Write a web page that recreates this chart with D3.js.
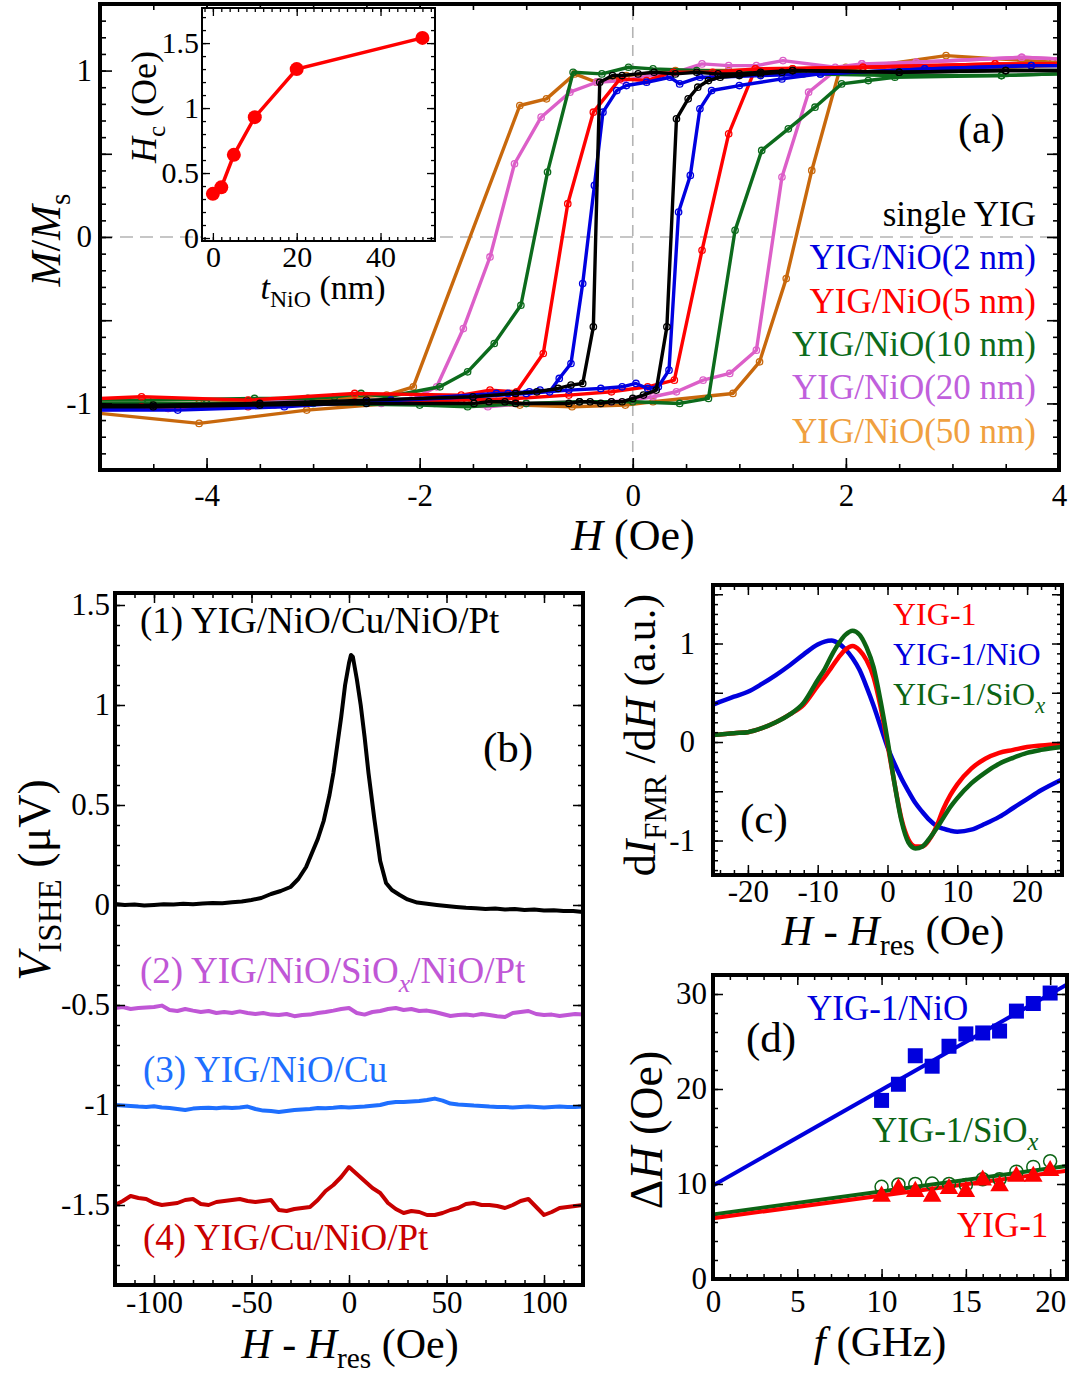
<!DOCTYPE html>
<html><head><meta charset="utf-8">
<script src="https://cdn.jsdelivr.net/npm/d3@7"></script>
<style>body{margin:0;background:#fff} svg{display:block} text{white-space:pre}</style>
</head><body>
<script>
// ================= DATA =================
// ---- Panel (a): M/Ms vs H (Oe); descending (from +H) and ascending (from -H) branches ----
const yigDesc  = [[4,1.0],[3.5,1.0],[2.5,0.99],[1.5,1.0],[1.2,0.99],[1.0,0.98],[0.8,0.98],[0.6,0.99],[0.4,0.98],[0.2,0.99],[0.05,0.98],[-0.1,0.97],[-0.19,0.97],[-0.31,0.93],[-0.37,-0.54],[-0.47,-0.88],[-0.58,-0.89],[-0.7,-0.91],[-0.9,-0.93],[-1.1,-0.94],[-1.5,-0.96],[-2.5,-0.98],[-3.5,-1.0],[-4.5,-1.01],[-5,-1.01]];
const yigAsc   = [[-5,-1.02],[-4.5,-1.02],[-3.5,-1.01],[-2.5,-1.0],[-1.49,-1.0],[-1.35,-0.99],[-1.2,-0.99],[-1.1,-1.0],[-0.6,-1.0],[-0.5,-0.99],[-0.4,-0.99],[-0.3,-1.0],[-0.2,-0.99],[-0.1,-0.99],[0.0,-0.97],[0.1,-0.95],[0.22,-0.92],[0.32,-0.54],[0.41,0.71],[0.52,0.83],[0.61,0.90],[0.71,0.94],[0.82,0.96],[1.0,0.97],[1.2,0.98],[1.4,0.99],[1.5,1.0],[2.5,0.99],[3.5,1.0],[4,1.0]];
const nio2Desc = [[4,1.03],[3.74,1.03],[2.74,1.01],[1.76,0.98],[1.2,0.97],[0.75,0.96],[0.63,0.96],[0.44,0.92],[0.35,0.96],[0.13,0.93],[-0.06,0.91],[-0.15,0.88],[-0.28,0.75],[-0.36,0.31],[-0.47,-0.28],[-0.58,-0.76],[-0.69,-0.85],[-0.78,-0.93],[-0.87,-0.92],[-0.97,-0.93],[-1.17,-0.94],[-1.28,-0.94],[-2.27,-0.98],[-3.27,-1.02],[-4.27,-1.04],[-5,-1.04]];
const nio2Asc  = [[-5,-1.03],[-4.5,-1.02],[-3.5,-1.01],[-2.5,-0.99],[-1.5,-0.96],[-1.0,-0.94],[-0.6,-0.92],[-0.3,-0.91],[-0.1,-0.9],[0.03,-0.88],[0.14,-0.91],[0.24,-0.90],[0.34,-0.80],[0.43,0.15],[0.54,0.37],[0.63,0.77],[0.74,0.88],[1.0,0.91],[1.4,0.95],[1.76,0.98],[2.74,1.01],[3.74,1.03],[4,1.03]];
const nio5Desc = [[4,1.04],[3.4,1.04],[2.16,1.02],[1.5,1.01],[1.15,1.01],[0.75,0.99],[0.38,0.99],[0.13,0.94],[-0.12,0.95],[-0.37,0.75],[-0.61,0.2],[-0.84,-0.70],[-1.09,-0.93],[-1.34,-0.92],[-1.61,-0.95],[-2.61,-0.94],[-3.61,-0.98],[-4.61,-0.96],[-5,-0.97]];
const nio5Asc  = [[-5,-1.01],[-4.61,-1.02],[-3.61,-1.02],[-2.61,-0.99],[-1.61,-0.98],[-1.1,-0.97],[-0.6,-0.95],[-0.2,-0.93],[0.14,-0.90],[0.39,-0.86],[0.65,-0.08],[0.9,0.62],[1.15,1.01],[2.16,1.02],[3.4,1.04],[4,1.04]];
const nio10Desc= [[4,0.98],[3.46,0.97],[2.46,0.97],[1.6,0.98],[1.2,0.99],[0.6,1.0],[0.19,1.01],[-0.04,1.02],[-0.29,0.98],[-0.56,0.99],[-0.8,0.39],[-1.05,-0.41],[-1.3,-0.64],[-1.55,-0.81],[-1.81,-0.90],[-2.3,-0.96],[-2.55,-0.94],[-2.8,-0.96],[-3.05,-0.97],[-3.55,-0.97],[-4.55,-0.98],[-5,-0.98]];
const nio10Asc = [[-5,-1.0],[-4,-1.0],[-3,-1.0],[-2,-1.01],[-1.55,-1.02],[-1.0,-1.0],[-0.5,-0.99],[0,-0.99],[0.44,-1.0],[0.71,-0.97],[0.96,0.04],[1.21,0.52],[1.46,0.65],[1.71,0.78],[1.96,0.92],[2.21,0.94],[2.46,0.96],[3.46,0.97],[4,0.98]];
const nio20Desc= [[4,1.07],[3.65,1.08],[2.66,1.05],[2.15,1.04],[1.9,1.02],[1.41,1.06],[1.16,1.03],[0.9,1.03],[0.65,1.04],[0.41,0.99],[0.16,0.97],[-0.09,0.94],[-0.34,0.93],[-0.59,0.87],[-0.86,0.72],[-1.11,0.44],[-1.34,-0.12],[-1.59,-0.55],[-1.84,-0.90],[-2.08,-0.98],[-2.36,-0.99],[-3.36,-0.99],[-4.36,-1.03],[-5,-1.03]];
const nio20Asc = [[-5,-1.04],[-4.36,-1.03],[-3.36,-1.01],[-2.36,-1.0],[-1.86,-1.0],[-1.36,-1.02],[-1.0,-1.0],[-0.5,-0.99],[-0.2,-0.99],[0.0,-0.98],[0.19,-0.96],[0.41,-0.93],[0.66,-0.86],[0.91,-0.82],[1.16,-0.68],[1.40,0.36],[1.65,0.87],[1.9,1.0],[2.15,1.04],[2.4,1.03],[2.66,1.05],[3.65,1.08],[4,1.07]];
const nio50Desc= [[4,1.03],[3.0,1.01],[2.0,1.02],[1.5,1.01],[0.9,1.0],[0.4,1.0],[-0.06,0.97],[-0.34,0.93],[-0.545,0.98],[-0.81,0.83],[-1.06,0.79],[-2.06,-0.90],[-2.31,-0.95],[-3.06,-0.98],[-4.07,-1.0],[-5,-1.0]];
const nio50Asc = [[-5,-1.06],[-4.07,-1.12],[-3.06,-1.04],[-2.07,-0.99],[-1.56,-1.0],[-1.06,-1.01],[-0.57,-1.02],[-0.07,-1.01],[0.19,-0.99],[0.94,-0.94],[1.19,-0.75],[1.44,-0.25],[1.68,0.40],[1.94,1.0],[2.94,1.09],[3.94,1.05],[4,1.05]];
const loopLabels = ["single YIG","YIG/NiO(2 nm)","YIG/NiO(5 nm)","YIG/NiO(10 nm)","YIG/NiO(20 nm)","YIG/NiO(50 nm)"];
const aXTicks = [-4,-2,0,2,4];
const aYTicks = [-1,0,1];
// ---- inset: coercivity vs NiO thickness ----
const tNiO = [0,2,5,10,20,50];
const Hc   = [0.34,0.39,0.64,0.93,1.30,1.54];
const inXTicks = [0,20,40];
const inYTicks = [0,0.5,1,1.5];

// ---- Panel (b): V_ISHE (uV) vs H-Hres (Oe) ----
const bH1 = [-120,-115,-110,-105,-100,-95,-90,-85,-80,-75,-70,-65,-60,-55,-50,-45,-40,-35,-30,-26,-22,-19,-16,-13,-10,-8,-6,-4,-2,0,1,2,4,6,8,10,13,16,19,22,26,30,35,40,45,50,55,60,65,70,75,80,85,90,95,100,105,110,115,120];
const bV1 = [0.005,0.0,0.002,-0.003,0.0,0.004,0.003,0.006,0.004,0.008,0.01,0.009,0.014,0.018,0.025,0.035,0.055,0.07,0.09,0.13,0.19,0.26,0.33,0.42,0.55,0.66,0.8,0.94,1.1,1.21,1.25,1.24,1.13,1.0,0.84,0.66,0.43,0.22,0.11,0.075,0.05,0.028,0.012,0.006,0.0,-0.005,-0.01,-0.014,-0.016,-0.02,-0.018,-0.022,-0.02,-0.025,-0.023,-0.028,-0.026,-0.03,-0.03,-0.035];
const bH = [-120,-116,-112,-108,-104,-100,-96,-92,-88,-84,-80,-76,-72,-68,-64,-60,-56,-52,-48,-44,-40,-36,-32,-28,-24,-20,-16,-12,-8,-4,0,4,8,12,16,20,24,28,32,36,40,44,48,52,56,60,64,68,72,76,80,84,88,92,96,100,104,108,112,116,120];
const bV2 = [-0.515,-0.51,-0.52,-0.515,-0.512,-0.51,-0.503,-0.525,-0.53,-0.52,-0.528,-0.535,-0.53,-0.54,-0.535,-0.54,-0.532,-0.54,-0.545,-0.54,-0.548,-0.55,-0.545,-0.556,-0.55,-0.548,-0.54,-0.535,-0.528,-0.52,-0.515,-0.54,-0.548,-0.535,-0.53,-0.52,-0.515,-0.525,-0.52,-0.53,-0.528,-0.535,-0.545,-0.555,-0.55,-0.548,-0.552,-0.545,-0.55,-0.556,-0.56,-0.54,-0.535,-0.53,-0.545,-0.55,-0.548,-0.555,-0.55,-0.545,-0.547];
const bV3 = [-1.0,-1.002,-1.005,-1.008,-1.01,-1.006,-1.012,-1.015,-1.02,-1.025,-1.018,-1.015,-1.014,-1.016,-1.013,-1.015,-1.012,-1.008,-1.02,-1.028,-1.03,-1.035,-1.03,-1.025,-1.022,-1.02,-1.015,-1.016,-1.014,-1.01,-1.012,-1.01,-1.008,-1.004,-1.0,-0.99,-0.985,-0.985,-0.982,-0.98,-0.975,-0.968,-0.978,-0.993,-0.998,-1.0,-1.003,-1.005,-1.008,-1.01,-1.01,-1.012,-1.01,-1.008,-1.01,-1.012,-1.01,-1.008,-1.01,-1.01,-1.008];
const bV4 = [-1.5,-1.48,-1.455,-1.465,-1.47,-1.49,-1.5,-1.495,-1.49,-1.475,-1.47,-1.495,-1.5,-1.485,-1.48,-1.475,-1.47,-1.48,-1.485,-1.48,-1.475,-1.525,-1.53,-1.52,-1.515,-1.51,-1.475,-1.43,-1.4,-1.36,-1.31,-1.345,-1.38,-1.415,-1.44,-1.49,-1.52,-1.54,-1.53,-1.535,-1.55,-1.55,-1.54,-1.525,-1.515,-1.495,-1.49,-1.5,-1.5,-1.505,-1.515,-1.5,-1.48,-1.47,-1.51,-1.55,-1.535,-1.515,-1.51,-1.505,-1.5];
const bXTicks = [-100,-50,0,50,100];
const bYTicks = [-1.5,-1,-0.5,0,0.5,1,1.5];

// ---- Panel (c): dI_FMR/dH (a.u.) vs H-Hres (Oe) ----
const cH    = [-25,-22,-20,-18,-16,-14,-12,-10,-9,-8,-7,-6,-5,-4,-3,-2,-1,0,1,2,3,4,5,6,7,8,9,10,12,14,16,18,20,22,25];
const cYIG  = [0.07,0.09,0.1,0.14,0.2,0.28,0.38,0.57,0.66,0.76,0.86,0.94,0.975,0.93,0.83,0.66,0.36,-0.02,-0.42,-0.78,-0.99,-1.06,-1.06,-0.99,-0.86,-0.68,-0.54,-0.43,-0.27,-0.17,-0.11,-0.08,-0.05,-0.035,-0.02];
const cNiO  = [0.38,0.46,0.51,0.59,0.68,0.78,0.89,0.99,1.02,1.03,1.0,0.94,0.85,0.73,0.56,0.37,0.16,-0.05,-0.22,-0.37,-0.5,-0.62,-0.71,-0.79,-0.85,-0.88,-0.9,-0.91,-0.89,-0.83,-0.76,-0.67,-0.58,-0.49,-0.38];
const cSiO  = [0.07,0.09,0.1,0.14,0.2,0.28,0.4,0.63,0.74,0.88,1.0,1.09,1.13,1.09,0.96,0.76,0.42,0.02,-0.42,-0.8,-1.02,-1.08,-1.06,-0.98,-0.88,-0.77,-0.66,-0.57,-0.42,-0.31,-0.22,-0.16,-0.11,-0.08,-0.05];
const cXTicks = [-20,-10,0,10,20];
const cYTicks = [-1,0,1];

// ---- Panel (d): linewidth dH (Oe) vs f (GHz) ----
const dF    = [10,11,12,13,14,15,16,17,18,19,20];
const dNiO  = [18.8,20.5,23.5,22.4,24.5,25.8,25.9,26.1,28.2,29.0,30.1];
const dSiO  = [9.7,9.95,10.0,10.05,10.0,9.9,10.5,10.5,11.3,11.8,12.4];
const dYIG  = [8.7,9.5,9.2,8.7,9.5,9.2,10.4,9.8,10.8,10.8,11.4];
const fitF   = [0,21];
const fitNiO = [9.85,31.0];
const fitSiO = [6.8,11.9];
const fitYIG = [6.4,11.4];
const dXTicks = [0,5,10,15,20];
const dYTicks = [0,10,20,30];

// ================= DRAWING =================
const FONT = '"Liberation Serif","Times New Roman",Times,serif';
const svg = d3.select('body').append('svg').attr('width',1073).attr('height',1375)
  .style('background','#fff');
const defs = svg.append('defs');
const fmt = d => String(d);

function clip(id, x, y){
  defs.append('clipPath').attr('id',id).append('rect')
    .attr('x',x.range()[0]).attr('y',y.range()[1])
    .attr('width',x.range()[1]-x.range()[0]).attr('height',y.range()[0]-y.range()[1]);
  return `url(#${id})`;
}
function axes(g, x, y, o){
  const [xl,xr]=x.range(), [yb,yt]=y.range();
  const mk=(gen,scale,vals,len,labs,pad,tr)=>{
    const a=gen(scale).tickValues(vals).tickSize(-len).tickPadding(pad)
      .tickFormat(labs ? (d=>labs.includes(d)?fmt(d):'') : (()=>''));
    const gg=g.append('g').attr('transform',tr).call(a);
    gg.select('.domain').remove();
    gg.attr('font-size',null).attr('font-family',null);
    gg.selectAll('line').attr('stroke','#000').attr('stroke-width',o.tw||1.5);
    gg.selectAll('text').attr('font-family',FONT).attr('font-size',o.fs).attr('fill','#000');
  };
  mk(d3.axisBottom,x,o.xMinor,o.minL,null,0,`translate(0,${yb})`);
  mk(d3.axisBottom,x,o.xMajor,o.majL,o.xLab,o.xPad,`translate(0,${yb})`);
  mk(d3.axisTop,x,o.xMinor,o.minL,null,0,`translate(0,${yt})`);
  mk(d3.axisTop,x,o.xMajor,o.majL,null,0,`translate(0,${yt})`);
  mk(d3.axisLeft,y,o.yMinor,o.minL,null,0,`translate(${xl},0)`);
  mk(d3.axisLeft,y,o.yMajor,o.majL,o.yLab,o.yPad,`translate(${xl},0)`);
  mk(d3.axisRight,y,o.yMinor,o.minL,null,0,`translate(${xr},0)`);
  mk(d3.axisRight,y,o.yMajor,o.majL,null,0,`translate(${xr},0)`);
}
function frame(g,x,y,w){
  g.append('rect').attr('x',x.range()[0]).attr('y',y.range()[1])
   .attr('width',x.range()[1]-x.range()[0]).attr('height',y.range()[0]-y.range()[1])
   .attr('fill','none').attr('stroke','#000').attr('stroke-width',w);
}
function rich(g,x,y,parts,fs,opt={}){
  const t=g.append('text').attr('x',x).attr('y',y).attr('font-family',FONT).attr('font-size',fs)
    .attr('text-anchor',opt.anchor||'start').attr('fill',opt.fill||'#000');
  if(opt.rotate) t.attr('transform',`rotate(-90,${x},${y})`);
  let shift=0;
  parts.forEach(p=>{
    if(typeof p==='string') p={t:p};
    const s=t.append('tspan').text(p.t);
    const target=p.sub?fs*0.24:0;
    if(target!==shift){ s.attr('dy',target-shift); shift=target; }
    if(p.sub) s.attr('font-size',fs*(p.ss||0.7));
    if(p.i) s.attr('font-style','italic');
  });
  return t;
}
const rng=(a,b,s)=>d3.range(Math.round(a/s),Math.round(b/s)+1).map(v=>+(v*s).toFixed(4));

// ---------- Panel (a) ----------
{
  const g=svg.append('g');
  const x=d3.scaleLinear().domain([-5,4]).range([100,1059]);
  const y=d3.scaleLinear().domain([-1.4,1.4]).range([470,4]);
  const cp=clip('ca',x,y);
  const dg=g.append('g').attr('clip-path',cp);
  dg.append('line').attr('x1',x(-5)).attr('x2',x(4)).attr('y1',y(0)).attr('y2',y(0))
    .attr('stroke','#b4b4b4').attr('stroke-width',1.6).attr('stroke-dasharray','13,7');
  dg.append('line').attr('x1',x(0)).attr('x2',x(0)).attr('y1',y(-1.4)).attr('y2',y(1.4))
    .attr('stroke','#b4b4b4').attr('stroke-width',1.6).attr('stroke-dasharray','11,7');
  const loops=[
    {d:nio50Desc,a:nio50Asc,c:'#c8680c'},
    {d:nio20Desc,a:nio20Asc,c:'#dc5fc8'},
    {d:nio10Desc,a:nio10Asc,c:'#0c6b1c'},
    {d:nio5Desc,a:nio5Asc,c:'#ff0000'},
    {d:nio2Desc,a:nio2Asc,c:'#0000e0'},
    {d:yigDesc,a:yigAsc,c:'#000000'},
  ];
  const line=d3.line().x(d=>x(d[0])).y(d=>y(d[1]));
  loops.forEach(L=>{
    [L.d,L.a].forEach(br=>{
      dg.append('path').attr('d',line(br)).attr('fill','none').attr('stroke',L.c)
        .attr('stroke-width',3.4).attr('stroke-linejoin','round');
      dg.selectAll(null).data(br.filter(p=>p[0]>-4.95&&p[0]<3.97)).enter().append('circle')
        .attr('cx',d=>x(d[0])).attr('cy',d=>y(d[1])).attr('r',3.2)
        .attr('fill','none').attr('stroke',L.c).attr('stroke-width',1.3);
    });
  });
  axes(g,x,y,{xMinor:rng(-5,4,0.5),xMajor:rng(-4,4,2),xLab:aXTicks,yMinor:rng(-1.4,1.4,0.1),
    yMajor:[-1,-0.5,0,0.5,1],yLab:aYTicks,minL:6,majL:12,fs:31,xPad:14,yPad:8,tw:1.6});
  frame(g,x,y,4);
  rich(g,633,550,[{t:'H',i:true},' (Oe)'],44,{anchor:'middle'});
  rich(g,60,240,[{t:'M',i:true},'/',{t:'M',i:true},{t:'s',sub:true}],42,{anchor:'middle',rotate:true});
  // legend
  const legCol=['#000000','#0000e0','#ff0000','#0c6b1c','#c060dc','#f0a040'];
  loopLabels.forEach((t,i)=>{
    g.append('text').attr('x',1036).attr('y',226+i*43.3).attr('text-anchor','end')
      .attr('font-family',FONT).attr('font-size',35).attr('fill',legCol[i]).text(t);
  });
  g.append('text').attr('x',958).attr('y',143).attr('font-family',FONT).attr('font-size',42).text('(a)');

  // inset
  const xi=d3.scaleLinear().domain([-2.6,53]).range([202,435]);
  const yi=d3.scaleLinear().domain([-0.023,1.77]).range([241,8]);
  const ig=g.append('g');
  ig.append('rect').attr('x',202).attr('y',8).attr('width',233).attr('height',233).attr('fill','#fff');
  const il=d3.line().x((d,i)=>xi(tNiO[i])).y(d=>yi(d));
  ig.append('path').attr('d',il(Hc)).attr('fill','none').attr('stroke','#ff0000').attr('stroke-width',3.5);
  ig.selectAll(null).data(Hc).enter().append('circle').attr('cx',(d,i)=>xi(tNiO[i])).attr('cy',d=>yi(d))
    .attr('r',7).attr('fill','#ff0000');
  axes(ig,xi,yi,{xMinor:rng(-2,52,2),xMajor:[0,20,40],xLab:inXTicks,yMinor:rng(0,1.7,0.1),
    yMajor:[0,0.5,1,1.5],yLab:inYTicks,minL:4,majL:8,fs:30,xPad:5,yPad:3,tw:1.3});
  frame(ig,xi,yi,2);
  rich(ig,323,299,[{t:'t',i:true},{t:'NiO',sub:true},' (nm)'],34,{anchor:'middle'});
  rich(ig,156,107,[{t:'H',i:true},{t:'c',sub:true},' (Oe)'],36,{anchor:'middle',rotate:true});
}

// ---------- Panel (b) ----------
{
  const g=svg.append('g');
  const x=d3.scaleLinear().domain([-120,120]).range([115,583]);
  const y=d3.scaleLinear().domain([-1.9,1.56]).range([1285,593]);
  const dg=g.append('g').attr('clip-path',clip('cb',x,y));
  const ln=(xs)=>d3.line().x((d,i)=>x(xs[i])).y(d=>y(d));
  const tr=[{v:bV1,h:bH1,c:'#000000'},{v:bV2,h:bH,c:'#c057d6'},{v:bV3,h:bH,c:'#1e6fff'},{v:bV4,h:bH,c:'#c80000'}];
  tr.forEach(T=>dg.append('path').attr('d',ln(T.h)(T.v)).attr('fill','none').attr('stroke',T.c)
    .attr('stroke-width',4).attr('stroke-linejoin','round'));
  axes(g,x,y,{xMinor:rng(-120,120,10),xMajor:[-100,-50,0,50,100],xLab:bXTicks,yMinor:rng(-1.9,1.5,0.1),
    yMajor:[-1.5,-1,-0.5,0,0.5,1,1.5],yLab:bYTicks,minL:5,majL:10,fs:31,xPad:6,yPad:5,tw:1.5});
  frame(g,x,y,4);
  rich(g,140,633,['(1) YIG/NiO/Cu/NiO/Pt'],37);
  rich(g,140,983,['(2) YIG/NiO/SiO',{t:'x',i:true,sub:true},'/NiO/Pt'],37,{fill:'#c057d6'});
  rich(g,143,1082,['(3) YIG/NiO/Cu'],37,{fill:'#1e6fff'});
  rich(g,143,1250,['(4) YIG/Cu/NiO/Pt'],37,{fill:'#c80000'});
  g.append('text').attr('x',483).attr('y',762).attr('font-family',FONT).attr('font-size',43).text('(b)');
  rich(g,350,1358,[{t:'H',i:true},' - ',{t:'H',i:true},{t:'res',sub:true},' (Oe)'],42,{anchor:'middle'});
  rich(g,50,880,[{t:'V',i:true},{t:'ISHE',sub:true,ss:0.72},' (μV)'],46,{anchor:'middle',rotate:true});
}

// ---------- Panel (c) ----------
{
  const g=svg.append('g');
  const x=d3.scaleLinear().domain([-25,25]).range([713,1062]);
  const y=d3.scaleLinear().domain([-1.35,1.594]).range([875,585]);
  const dg=g.append('g').attr('clip-path',clip('cc',x,y));
  const ln=d3.line().curve(d3.curveMonotoneX).x((d,i)=>x(cH[i])).y(d=>y(d));
  [{v:cNiO,c:'#0000dd'},{v:cYIG,c:'#ff0000'},{v:cSiO,c:'#0c6414'}].forEach(T=>
    dg.append('path').attr('d',ln(T.v)).attr('fill','none').attr('stroke',T.c).attr('stroke-width',4.5));
  axes(g,x,y,{xMinor:rng(-24,24,2),xMajor:[-20,-10,0,10,20],xLab:cXTicks,yMinor:rng(-1.3,1.5,0.1),
    yMajor:[-1,-0.5,0,0.5,1,1.5],yLab:cYTicks,minL:5,majL:10,fs:31,xPad:5,yPad:18,tw:1.5});
  frame(g,x,y,4);
  rich(g,893,625,['YIG-1'],32,{fill:'#ff0000'});
  rich(g,893,665,['YIG-1/NiO'],32,{fill:'#0000dd'});
  rich(g,893,705,['YIG-1/SiO',{t:'x',i:true,sub:true}],32,{fill:'#0c6414'});
  g.append('text').attr('x',740).attr('y',833).attr('font-family',FONT).attr('font-size',43).text('(c)');
  rich(g,893,945,[{t:'H',i:true},' - ',{t:'H',i:true},{t:'res',sub:true},' (Oe)'],43,{anchor:'middle'});
  rich(g,655,735,['d',{t:'I',i:true},{t:'FMR',sub:true},' /d',{t:'H',i:true},' (a.u.)'],44,{anchor:'middle',rotate:true});
}

// ---------- Panel (d) ----------
{
  const g=svg.append('g');
  const x=d3.scaleLinear().domain([0,21]).range([713,1067]);
  const y=d3.scaleLinear().domain([0,32]).range([1279,975]);
  const dg=g.append('g').attr('clip-path',clip('cd',x,y));
  const fl=d3.line().x((d,i)=>x(fitF[i])).y(d=>y(d));
  dg.append('path').attr('d',fl(fitNiO)).attr('stroke','#0000dd').attr('stroke-width',4).attr('fill','none');
  dg.append('path').attr('d',fl(fitSiO)).attr('stroke','#0c6414').attr('stroke-width',4).attr('fill','none');
  dg.append('path').attr('d',fl(fitYIG)).attr('stroke','#ff0000').attr('stroke-width',4).attr('fill','none');
  dg.selectAll(null).data(dSiO).enter().append('circle').attr('cx',(d,i)=>x(dF[i])).attr('cy',d=>y(d))
    .attr('r',6.5).attr('fill','none').attr('stroke','#0c6414').attr('stroke-width',1.5);
  const tri=d3.symbol().type(d3.symbolTriangle).size(150);
  dg.selectAll(null).data(dYIG).enter().append('path').attr('d',tri)
    .attr('transform',(d,i)=>`translate(${x(dF[i])},${y(d)})`).attr('fill','#ff0000');
  dg.selectAll(null).data(dNiO).enter().append('rect').attr('x',(d,i)=>x(dF[i])-7.5).attr('y',d=>y(d)-7.5)
    .attr('width',15).attr('height',15).attr('fill','#0000dd');
  axes(g,x,y,{xMinor:rng(0,21,1),xMajor:[0,5,10,15,20],xLab:dXTicks,yMinor:rng(0,32,2),
    yMajor:[0,10,20,30],yLab:dYTicks,minL:5,majL:10,fs:31,xPad:11,yPad:6,tw:1.5});
  frame(g,x,y,4);
  rich(g,807,1020,['YIG-1/NiO'],35,{fill:'#0000dd'});
  rich(g,872,1142,['YIG-1/SiO',{t:'x',i:true,sub:true}],35,{fill:'#0c6414'});
  rich(g,957,1237,['YIG-1'],35,{fill:'#ff0000'});
  g.append('text').attr('x',746).attr('y',1052).attr('font-family',FONT).attr('font-size',43).text('(d)');
  rich(g,880,1356,[{t:'f',i:true},' (GHz)'],43,{anchor:'middle'});
  rich(g,662,1130,['Δ',{t:'H',i:true},' (Oe)'],46,{anchor:'middle',rotate:true});
}
</script>
</body></html>
